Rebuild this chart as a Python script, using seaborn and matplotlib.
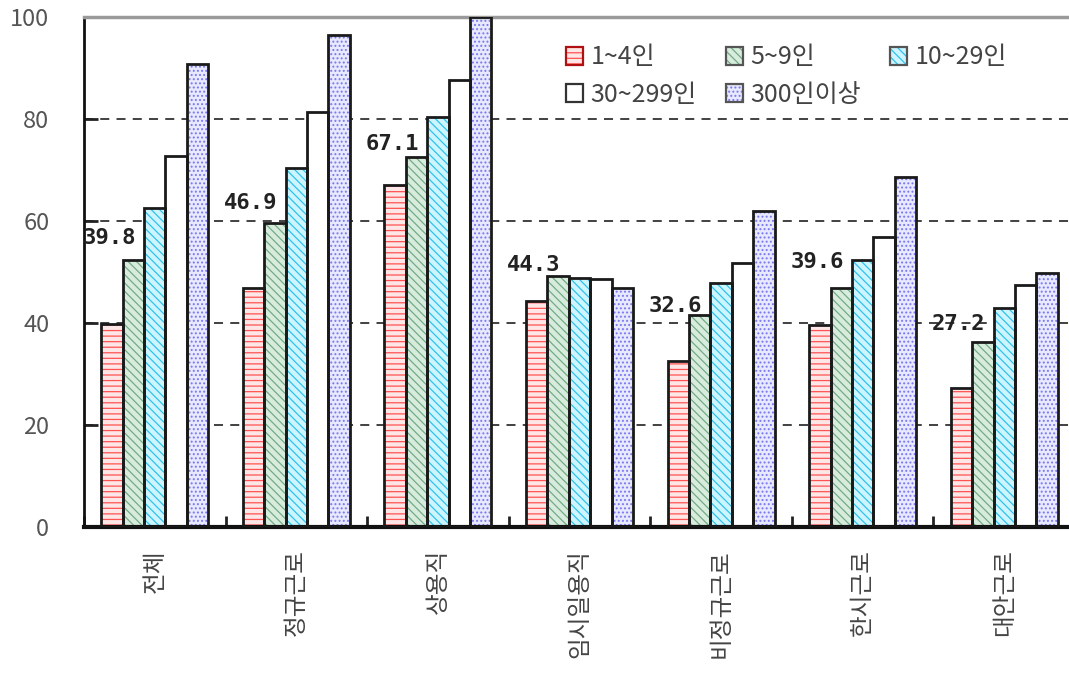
import matplotlib
matplotlib.use("Agg")
import matplotlib.pyplot as plt
from matplotlib.patches import Rectangle, Patch
from matplotlib.legend_handler import HandlerTuple
import numpy as np
import pandas as pd
import seaborn as sns

# 근로형태별 사업체 규모별 비율 (%)
categories = ["전체", "정규근로", "상용직", "임시일용직", "비정규근로", "한시근로", "대안근로"]
sizes = ["1~4인", "5~9인", "10~29인", "30~299인", "300인이상"]

v_1_4 = [39.8, 46.9, 67.1, 44.3, 32.6, 39.6, 27.2]
v_5_9 = [52.4, 59.6, 72.6, 49.3, 41.5, 46.9, 36.2]
v_10_29 = [62.5, 70.3, 80.4, 48.8, 47.8, 52.4, 43.0]
v_30_299 = [72.8, 81.4, 87.6, 48.6, 51.8, 56.9, 47.4]
v_300_up = [90.7, 96.4, 100.0, 46.9, 61.9, 68.7, 49.8]

y_ticks = [0, 20, 40, 60, 80, 100]

# how far each 1~4인 value label sits above its bar
label_lift = [16.9, 16.6, 8.0, 7.1, 10.7, 12.4, 12.6]

series = [v_1_4, v_5_9, v_10_29, v_30_299, v_300_up]
df = pd.DataFrame(
    [(c, s, v) for s, vals in zip(sizes, series) for c, v in zip(categories, vals)],
    columns=["구분", "규모", "비율"],
)

faces = ["#ffe6e6", "#d8ecde", "#cdf5ff", "#ffffff", "#e8e8ff"]
hatch_colors = ["#ff5252", "#74aa86", "#30c2ec", "#ffffff", "#7878f0"]
hatches = ["---", "\\\\\\\\", "\\\\\\\\", "", "...."]
legend_edges = ["#b01010", "#555555", "#555555", "#333333", "#555555"]

sns.set_theme(style="white")
plt.rcParams["font.family"] = ["Noto Sans CJK KR", "DejaVu Sans"]
plt.rcParams["hatch.linewidth"] = 0.9

fig = plt.figure(figsize=(10.69, 6.86), dpi=100)
ax = fig.add_axes([84 / 1069, 159 / 686, 991 / 1069, 510 / 686])

sns.barplot(
    data=df, x="구분", y="비율", hue="규모",
    order=categories, hue_order=sizes,
    palette=dict(zip(sizes, faces)), saturation=1,
    width=0.755, linewidth=0, legend=False, ax=ax, zorder=2,
)

for cont, h, hc in zip(ax.containers, hatches, hatch_colors):
    for p in cont:
        p.set_hatch(h)
        p.set_edgecolor(hc)
        p.set_linewidth(0)
        ax.add_patch(Rectangle((p.get_x(), 0), p.get_width(), p.get_height(),
                               fill=False, edgecolor="#1a1a1a", lw=2, zorder=3))

# value labels for the smallest size class
for p, v, lift in zip(ax.containers[0], v_1_4, label_lift):
    ax.text(p.get_x() + p.get_width() / 2 - 0.02, v + lift, f"{v:.1f}",
            ha="center", va="center", family="DejaVu Sans Mono",
            weight="bold", size=16, color="#222222", zorder=4)

ax.set_xlim(-0.5, len(categories) - 0.5)
ax.set_ylim(0, 100)
ax.set_yticks(y_ticks)
ax.set_xticks(range(len(categories)))
ax.set_xticklabels(categories, rotation=90)
ax.set_xticks(np.arange(-0.5, len(categories)), minor=True)
ax.set_xlabel("")
ax.set_ylabel("")

ax.yaxis.grid(True, linestyle=(0, (5, 4)), color="#333333", lw=1.3)
ax.xaxis.grid(False)
ax.set_axisbelow(True)

ax.tick_params(axis="y", direction="in", length=10, width=2, color="#222222",
               pad=25, labelsize=17, labelcolor="#555555", left=True)
ax.tick_params(axis="x", which="major", length=0, pad=16,
               labelsize=17, labelcolor="#444444")
ax.tick_params(axis="x", which="minor", direction="in", length=8, width=2,
               color="#222222", bottom=True)

ax.spines["left"].set_color("#111111")
ax.spines["left"].set_linewidth(2)
ax.spines["bottom"].set_color("#111111")
ax.spines["bottom"].set_linewidth(3)
ax.spines["top"].set_color("#9a9a9a")
ax.spines["top"].set_linewidth(2.5)
ax.spines["right"].set_visible(False)

handles = [
    (Patch(facecolor=f, edgecolor=hc, hatch=h, lw=0),
     Patch(fill=False, edgecolor=ec, lw=1.6))
    for f, hc, h, ec in zip(faces, hatch_colors, hatches, legend_edges)
]
order = [0, 3, 1, 4, 2]
fig.legend(
    [handles[i] for i in order], [sizes[i] for i in order],
    handler_map={tuple: HandlerTuple(ndivide=1)},
    loc="upper left", bbox_to_anchor=(553 / 1069, 1 - 32 / 686),
    ncol=3, frameon=False, borderpad=0, fontsize=18, labelcolor="#444444",
    handlelength=0.7, handleheight=0.7, handletextpad=0.3,
    columnspacing=1.15, labelspacing=0.45,
)

fig.savefig("out.png", dpi=100)
